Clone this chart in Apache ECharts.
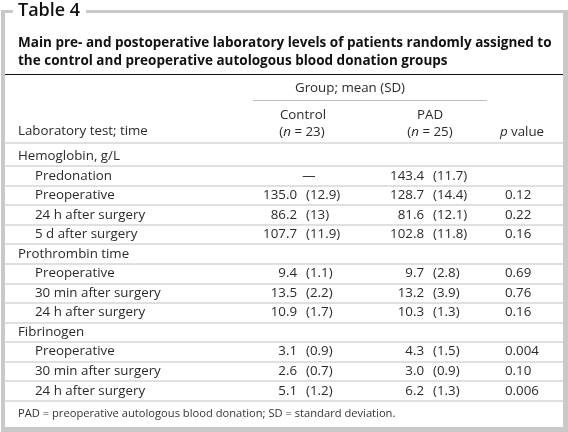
<!DOCTYPE html>
<html><head><meta charset="utf-8">
<script src="https://cdn.jsdelivr.net/npm/echarts@6/dist/echarts.min.js"></script>
<style>html,body{margin:0;padding:0;background:#fff}#c{width:568px;height:432px}</style>
</head><body><div id="c"></div>
<script>
// ---- data ----
const tableTitle = 'Table 4';
const subtitleLines = [
  'Main pre- and postoperative laboratory levels of patients randomly assigned to',
  'the control and preoperative autologous blood donation groups'
];
const groupHeader = 'Group; mean (SD)';
const columnHeaders = ['Control', 'PAD', 'p value'];
const columnNs = ['23', '25'];
const firstColumnHeader = 'Laboratory test; time';
const rowLabels = ['Hemoglobin, g/L', 'Predonation', 'Preoperative', '24 h after surgery', '5 d after surgery',
  'Prothrombin time', 'Preoperative', '30 min after surgery', '24 h after surgery',
  'Fibrinogen', 'Preoperative', '30 min after surgery', '24 h after surgery'];
const rowLevel = [0, 1, 1, 1, 1, 0, 1, 1, 1, 0, 1, 1, 1];
const controlMean = ['', '—', '135.0', '86.2', '107.7', '', '9.4', '13.5', '10.9', '', '3.1', '2.6', '5.1'];
const controlSD = ['', '', '12.9', '13', '11.9', '', '1.1', '2.2', '1.7', '', '0.9', '0.7', '1.2'];
const padMean = ['', '143.4', '128.7', '81.6', '102.8', '', '9.7', '13.2', '10.3', '', '4.3', '3.0', '6.2'];
const padSD = ['', '11.7', '14.4', '12.1', '11.8', '', '2.8', '3.9', '1.3', '', '1.5', '0.9', '1.3'];
const pValues = ['', '', '0.12', '0.22', '0.16', '', '0.69', '0.76', '0.16', '', '0.004', '0.10', '0.006'];
const footnote = 'PAD = preoperative autologous blood donation; SD = standard deviation.';

// ---- layout / style ----
const FAMILY = '"Open Sans", "Noto Sans", sans-serif';
const mctx = document.createElement('canvas').getContext('2d');
function fit(text, weight, target) {
  mctx.font = weight + ' 100px ' + FAMILY;
  return 100 * target / mctx.measureText(text).width;
}
const bodySize = fit(firstColumnHeader, 'normal', 130);
const subSize = fit(subtitleLines[0], 'bold', 534);
const titleSize = fit(tableTitle, '600', 62);
const footSize = fit(footnote, 'normal', 378);
const TXT = '#2b2b2b';
const GRID_LINE = '#d6d6d6';
const COL = { label0: 18, label1: 35, cMeanR: 297, cSdL: 306, cDash: 309, pMeanR: 424, pSdL: 433, p: 505 };

const chart = echarts.init(document.getElementById('c'), null, { renderer: 'canvas' });

function bodyText(text, x, y, align) {
  return { type: 'text', style: { text, x, y, align, verticalAlign: 'middle', fontFamily: FAMILY, fontSize: bodySize, fill: TXT } };
}
const italicRich = { i: { fontStyle: 'italic', fontFamily: FAMILY, fontSize: bodySize, fill: TXT } };
function headText(text, x, y, align) {
  return { type: 'text', z: 10, style: { text, x, y, align: align || 'center', verticalAlign: 'middle', fontFamily: FAMILY, fontSize: bodySize, fill: TXT, rich: italicRich } };
}

const option = {
  animation: false,
  backgroundColor: '#fff',
  grid: { left: 5, right: 5, top: 146.5, bottom: 31.5 },
  xAxis: { type: 'value', min: 5, max: 563, show: false },
  yAxis: {
    type: 'value', inverse: true, min: 0, max: rowLabels.length, interval: 1,
    axisLabel: { show: false }, axisLine: { show: false }, axisTick: { show: false },
    splitLine: { show: true, showMinLine: false, showMaxLine: true, lineStyle: { color: GRID_LINE, width: 1.5 } }
  },
  series: [{
    type: 'custom',
    clip: false,
    data: rowLabels.map((_, i) => [0, i]),
    renderItem(params, api) {
      const i = api.value(1);
      const y = api.coord([0, i + 0.5])[1];
      const X = v => api.coord([v, 0])[0];
      const ch = [];
      ch.push(bodyText(rowLabels[i], X(rowLevel[i] ? COL.label1 : COL.label0), y, 'left'));
      if (controlMean[i] && !controlSD[i]) {
        ch.push(bodyText(controlMean[i], X(COL.cDash), y, 'center'));
      } else if (controlMean[i]) {
        ch.push(bodyText(controlMean[i], X(COL.cMeanR), y, 'right'));
        ch.push(bodyText('(' + controlSD[i] + ')', X(COL.cSdL), y, 'left'));
      }
      if (padMean[i]) {
        ch.push(bodyText(padMean[i], X(COL.pMeanR), y, 'right'));
        ch.push(bodyText('(' + padSD[i] + ')', X(COL.pSdL), y, 'left'));
      }
      if (pValues[i]) ch.push(bodyText(pValues[i], X(COL.p), y, 'left'));
      return { type: 'group', children: ch };
    }
  }],
  graphic: [
    // frame
    { type: 'rect', z: -20, shape: { x: 1, y: 10, width: 567, height: 422 }, style: { fill: '#c9c9c9' } },
    { type: 'rect', z: -19, shape: { x: 5, y: 13, width: 558, height: 414 }, style: { fill: '#fff' } },
    { type: 'rect', z: -18, shape: { x: 13, y: 0, width: 73, height: 18 }, style: { fill: '#fff' } },
    { type: 'text', z: 10, style: { text: tableTitle, x: 18, y: 11, verticalAlign: 'middle', fontFamily: FAMILY, fontSize: titleSize, fontWeight: 600, fill: '#111' } },
    // subtitle
    { type: 'text', z: 10, style: { text: subtitleLines[0], x: 18, y: 43, verticalAlign: 'middle', fontFamily: FAMILY, fontSize: subSize, fontWeight: 'bold', fill: '#111' } },
    { type: 'text', z: 10, style: { text: subtitleLines[1], x: 18, y: 61.5, verticalAlign: 'middle', fontFamily: FAMILY, fontSize: subSize, fontWeight: 'bold', fill: '#111' } },
    { type: 'line', z: 10, shape: { x1: 5, y1: 74.5, x2: 563, y2: 74.5 }, style: { stroke: '#111', lineWidth: 1 } },
    // header
    headText(groupHeader, 350, 88),
    { type: 'line', z: 10, shape: { x1: 253, y1: 100.5, x2: 487, y2: 100.5 }, style: { stroke: '#bdbdbd', lineWidth: 1 } },
    headText(columnHeaders[0], 303, 115),
    headText('({i|n} = ' + columnNs[0] + ')', 302, 132),
    headText(columnHeaders[1], 430, 115),
    headText('({i|n} = ' + columnNs[1] + ')', 430, 132),
    headText('{i|p} value', 522, 132),
    headText(firstColumnHeader, 18, 131, 'left'),
    { type: 'line', z: 10, shape: { x1: 5, y1: 143, x2: 563, y2: 143 }, style: { stroke: GRID_LINE, lineWidth: 1.5 } },
    // footnote
    { type: 'text', z: 10, style: { text: footnote, x: 18, y: 414, verticalAlign: 'middle', fontFamily: FAMILY, fontSize: footSize, fill: '#333' } }
  ]
};
chart.setOption(option);
</script>
</body></html>
